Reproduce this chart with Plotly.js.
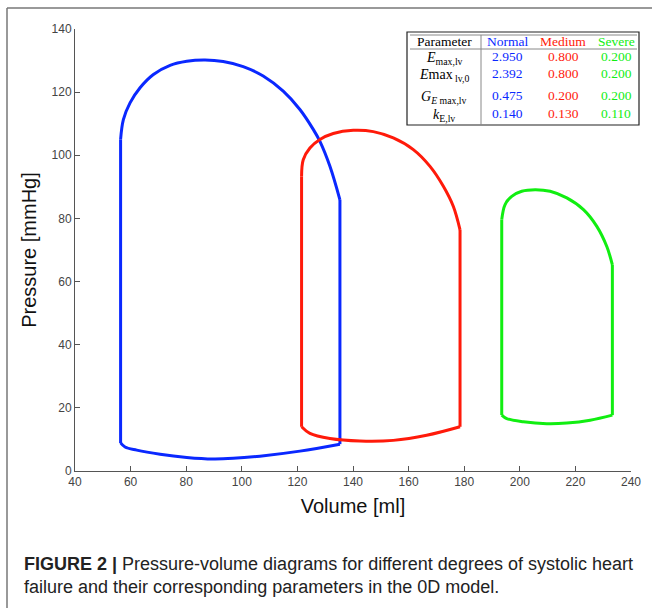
<!DOCTYPE html>
<html>
<head>
<meta charset="utf-8">
<script src="https://cdn.plot.ly/plotly-3.0.1.min.js"></script>
<style>html,body{margin:0;padding:0;background:#fff;}#chart{width:652px;height:608px;}</style>
</head>
<body>
<div id="chart"></div>
<script>
// ---- Data ----
const normalVolume = [56.4,58.0,62.2,70.6,80.2,89.7,96.9,106.5,120.9,135.3,135.3,131.7,128.1,125.7,120.9,114.9,107.7,100.5,93.3,86.8,80.2,74.2,68.2,63.4,59.8,57.4,56.4,56.4];
const normalPressure = [8.9,7.6,6.6,5.3,4.3,3.8,4.0,4.7,6.3,8.5,85.9,96.5,104.4,108.2,114.5,120.3,125.1,128.1,129.7,130.2,129.8,128.5,125.6,121.4,116.6,111.3,105.0,8.9];

const mediumVolume = [121.5,124.5,131.7,142.5,154.5,166.5,178.5,178.5,176.1,172.5,167.7,161.7,154.5,147.3,140.1,132.9,128.1,124.5,122.1,121.5,121.5];
const mediumPressure = [14.0,11.9,10.3,9.5,9.7,11.3,14.0,76.4,83.8,90.2,96.5,101.8,105.5,107.5,107.9,106.9,105.0,102.3,98.6,93.3,14.0];

const severeVolume = [193.5,195.3,201.3,209.7,216.9,225.3,233.3,233.3,231.3,227.7,222.9,216.9,210.9,205.5,200.7,197.1,194.7,193.5,193.5];
const severePressure = [17.7,16.6,15.6,15.0,15.2,16.1,17.7,65.3,71.1,77.5,82.8,86.5,88.6,89.1,88.6,87.0,84.4,79.6,17.7];

// indices where each loop's phases begin/end: [filling end, contraction end, ejection end]
const normalPhases = [9, 10, 26];
const mediumPhases = [6, 7, 19];
const severePhases = [6, 7, 17];

const tableHeader = ["Parameter","Normal","Medium","Severe"];
const paramLabels = ["<i>E</i><sub>max,lv</sub>","<i>E</i>max<sub> lv,0</sub>","<i>G</i><sub><i>E</i></sub><sub> max,lv</sub>","<i>k</i><sub>E,lv</sub>"];
const normalParams = ["2.950","2.392","0.475","0.140"];
const mediumParams = ["0.800","0.800","0.200","0.130"];
const severeParams = ["0.200","0.200","0.200","0.110"];

const xTicks = [40,60,80,100,120,140,160,180,200,220,240];
const yTicks = [0,20,40,60,80,100,120,140];

const captionBold = "FIGURE 2 |";
const captionText = " Pressure-volume diagrams for different degrees of systolic heart<br>failure and their corresponding parameters in the 0D model.";

// ---- Layout helpers (pixel -> paper) ----
const W = 652, H = 608;
const L = 75, R = 631, T = 29, B = 471;
const px = v => (v - L) / (R - L);
const py = v => (B - v) / (B - T);

const BLUE = "#0a28ff", RED = "#ff1a0a", GREEN = "#11ee11";
const colColors = ["#000000", BLUE, RED, GREEN];

function loopTraces(V, P, ph, color) {
  const cuts = [0, ph[0], ph[1], ph[2], V.length - 1];
  const out = [];
  for (let s = 0; s < 4; s++) {
    const a = cuts[s], b = cuts[s + 1];
    const curved = (s === 0 || s === 2);
    out.push({
      x: V.slice(a, b + 1), y: P.slice(a, b + 1), mode: "lines",
      line: {color: color, width: 3, shape: curved ? "spline" : "linear", smoothing: 1},
      hoverinfo: "skip"
    });
  }
  return out;
}

const traces = [].concat(
  loopTraces(normalVolume, normalPressure, normalPhases, BLUE),
  loopTraces(mediumVolume, mediumPressure, mediumPhases, RED),
  loopTraces(severeVolume, severePressure, severePhases, GREEN)
);

const serif = "Liberation Serif, DejaVu Serif, serif";
const annotations = [];
const colX = [444, 507, 563, 616];
tableHeader.forEach((h, i) => annotations.push({
  xref: "paper", yref: "paper", x: px(colX[i]), y: py(41), text: h, showarrow: false,
  xanchor: "center", yanchor: "middle", font: {family: serif, size: 13.5, color: colColors[i]}
}));
const rowY = [58, 76, 97, 116];
const valY = [56, 74, 95, 114];
paramLabels.forEach((p, r) => {
  annotations.push({xref: "paper", yref: "paper", x: px(colX[0]), y: py(rowY[r]), text: p, showarrow: false,
    xanchor: "center", yanchor: "middle", font: {family: serif, size: 14, color: "#000"}});
  [normalParams, mediumParams, severeParams].forEach((arr, c) => {
    annotations.push({xref: "paper", yref: "paper", x: px(colX[c + 1]), y: py(valY[r]), text: arr[r], showarrow: false,
      xanchor: "center", yanchor: "middle", font: {family: serif, size: 13.5, color: colColors[c + 1]}});
  });
});
annotations.push({
  xref: "paper", yref: "paper", x: px(22), y: py(575), xanchor: "left", yanchor: "middle", align: "left",
  showarrow: false, text: "<b>" + captionBold + "</b>" + captionText,
  font: {family: "Liberation Sans, Arial, sans-serif", size: 18, color: "#222"}
});

const shapes = [
  {type: "rect", xref: "paper", yref: "paper", x0: px(407), x1: px(639), y0: py(32), y1: py(125), line: {color: "#222", width: 1.2}},
  {type: "line", xref: "paper", yref: "paper", x0: px(410), x1: px(637), y0: py(35), y1: py(35), line: {color: "#888", width: 1}},
  {type: "line", xref: "paper", yref: "paper", x0: px(410), x1: px(637), y0: py(49), y1: py(49), line: {color: "#888", width: 1}},
  {type: "line", xref: "paper", yref: "paper", x0: px(481), x1: px(481), y0: py(35), y1: py(125), line: {color: "#888", width: 1}},
  {type: "line", xref: "paper", yref: "paper", x0: px(7), x1: px(652), y0: py(8), y1: py(8), line: {color: "#777", width: 1.5}},
  {type: "line", xref: "paper", yref: "paper", x0: px(7), x1: px(7), y0: py(8), y1: py(608), line: {color: "#777", width: 1.5}}
];

const sans = "Liberation Sans, Arial, Helvetica, sans-serif";
const layout = {
  width: W, height: H,
  margin: {l: L, r: W - R, t: T, b: H - B, pad: 0},
  paper_bgcolor: "#fff", plot_bgcolor: "#fff",
  showlegend: false,
  xaxis: {
    range: [40, 240], tickvals: xTicks, ticks: "inside", ticklen: 5, tickcolor: "#555",
    showline: true, linecolor: "#555", linewidth: 1, showgrid: false, zeroline: false,
    tickfont: {family: sans, size: 12, color: "#444"},
    title: {text: "Volume [ml]", font: {family: sans, size: 20, color: "#111"}, standoff: 10}
  },
  yaxis: {
    range: [0, 140], tickvals: yTicks, ticks: "inside", ticklen: 5, tickcolor: "#555",
    showline: true, linecolor: "#555", linewidth: 1, showgrid: false, zeroline: false,
    tickfont: {family: sans, size: 12, color: "#444"},
    title: {text: "Pressure [mmHg]", font: {family: sans, size: 20, color: "#111"}, standoff: 9}
  },
  annotations: annotations,
  shapes: shapes
};

Plotly.newPlot("chart", traces, layout, {displayModeBar: false, staticPlot: true});
</script>
</body>
</html>
